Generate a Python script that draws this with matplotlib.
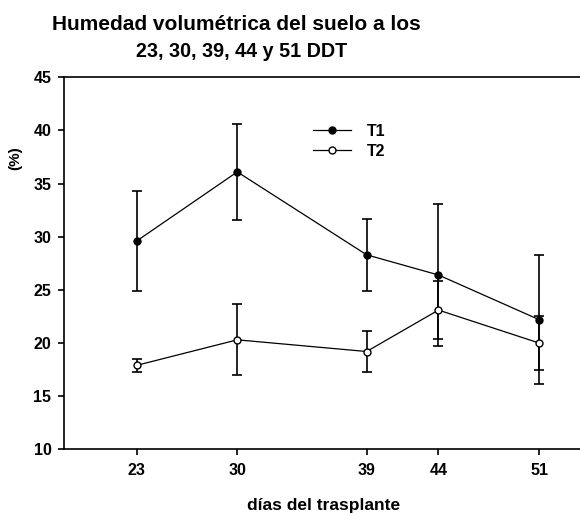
import matplotlib
matplotlib.use("Agg")
import matplotlib.pyplot as plt

plt.rcParams['font.family'] = ['Liberation Sans', 'DejaVu Sans']

days = [23, 30, 39, 44, 51]
t1 = [29.6, 36.1, 28.3, 26.4, 22.2]
t1_err = [4.7, 4.5, 3.4, 6.7, 6.1]
t2 = [17.9, 20.3, 19.2, 23.1, 20.0]
t2_err = [0.6, 3.35, 1.9, 2.7, 2.5]
yticks = [10, 15, 20, 25, 30, 35, 40, 45]
xticks = [23, 30, 39, 44, 51]
title_lines = ['Humedad volumétrica del suelo a los', '23, 30, 39, 44 y 51 DDT']

W, H = 580, 513
fig = plt.figure(figsize=(W / 100, H / 100), dpi=100)
ax = fig.add_axes([64 / W, 1 - 449.3 / H, (W - 64) / W, (449.3 - 77.3) / H])

ax.errorbar(days, t1, yerr=t1_err, fmt='-o', color='black', mfc='black', mec='black',
            ms=5, lw=0.9, elinewidth=1.2, capsize=3.6, capthick=1.2, label='T1')
ax.errorbar(days, t2, yerr=t2_err, fmt='-o', color='black', mfc='white', mec='black',
            ms=5, lw=0.9, elinewidth=1.2, capsize=3.6, capthick=1.2, label='T2')

ax.set_xlim(17.94, 53.85)
ax.set_ylim(10, 45)
ax.set_xticks(xticks)
ax.set_yticks(yticks)
ax.spines['right'].set_visible(False)
for s in ['left', 'bottom', 'top']:
    ax.spines[s].set_linewidth(1.2)
ax.tick_params(axis='both', direction='out', width=1.2, labelsize=11.5)
ax.tick_params(axis='y', length=4, pad=5)
ax.tick_params(axis='x', length=4, pad=6)
for lab in ax.get_xticklabels() + ax.get_yticklabels():
    lab.set_fontweight('bold')

h, l = ax.get_legend_handles_labels()
h = [hh[0] for hh in h]
leg = ax.legend(h, l, loc='upper left', bbox_to_anchor=(0.482, 0.875), frameon=False,
                borderpad=0, borderaxespad=0, handlelength=2.4, handletextpad=1.0,
                labelspacing=0.3, prop={'weight': 'bold', 'size': 11.5})

fig.text(236 / W, 1 - 30 / H, title_lines[0], ha='center', va='baseline',
         fontsize=15, fontweight='bold')
fig.text(242 / W, 1 - 57 / H, title_lines[1], ha='center', va='baseline',
         fontsize=14.2, fontweight='bold')
fig.text(15 / W, 1 - 158 / H, '(%)', rotation=90, ha='center', va='center',
         fontsize=11, fontweight='bold')
fig.text(324 / W, 1 - 510 / H, 'días del trasplante', ha='center', va='baseline',
         fontsize=12.5, fontweight='bold')

fig.savefig('out.png', dpi=100)
